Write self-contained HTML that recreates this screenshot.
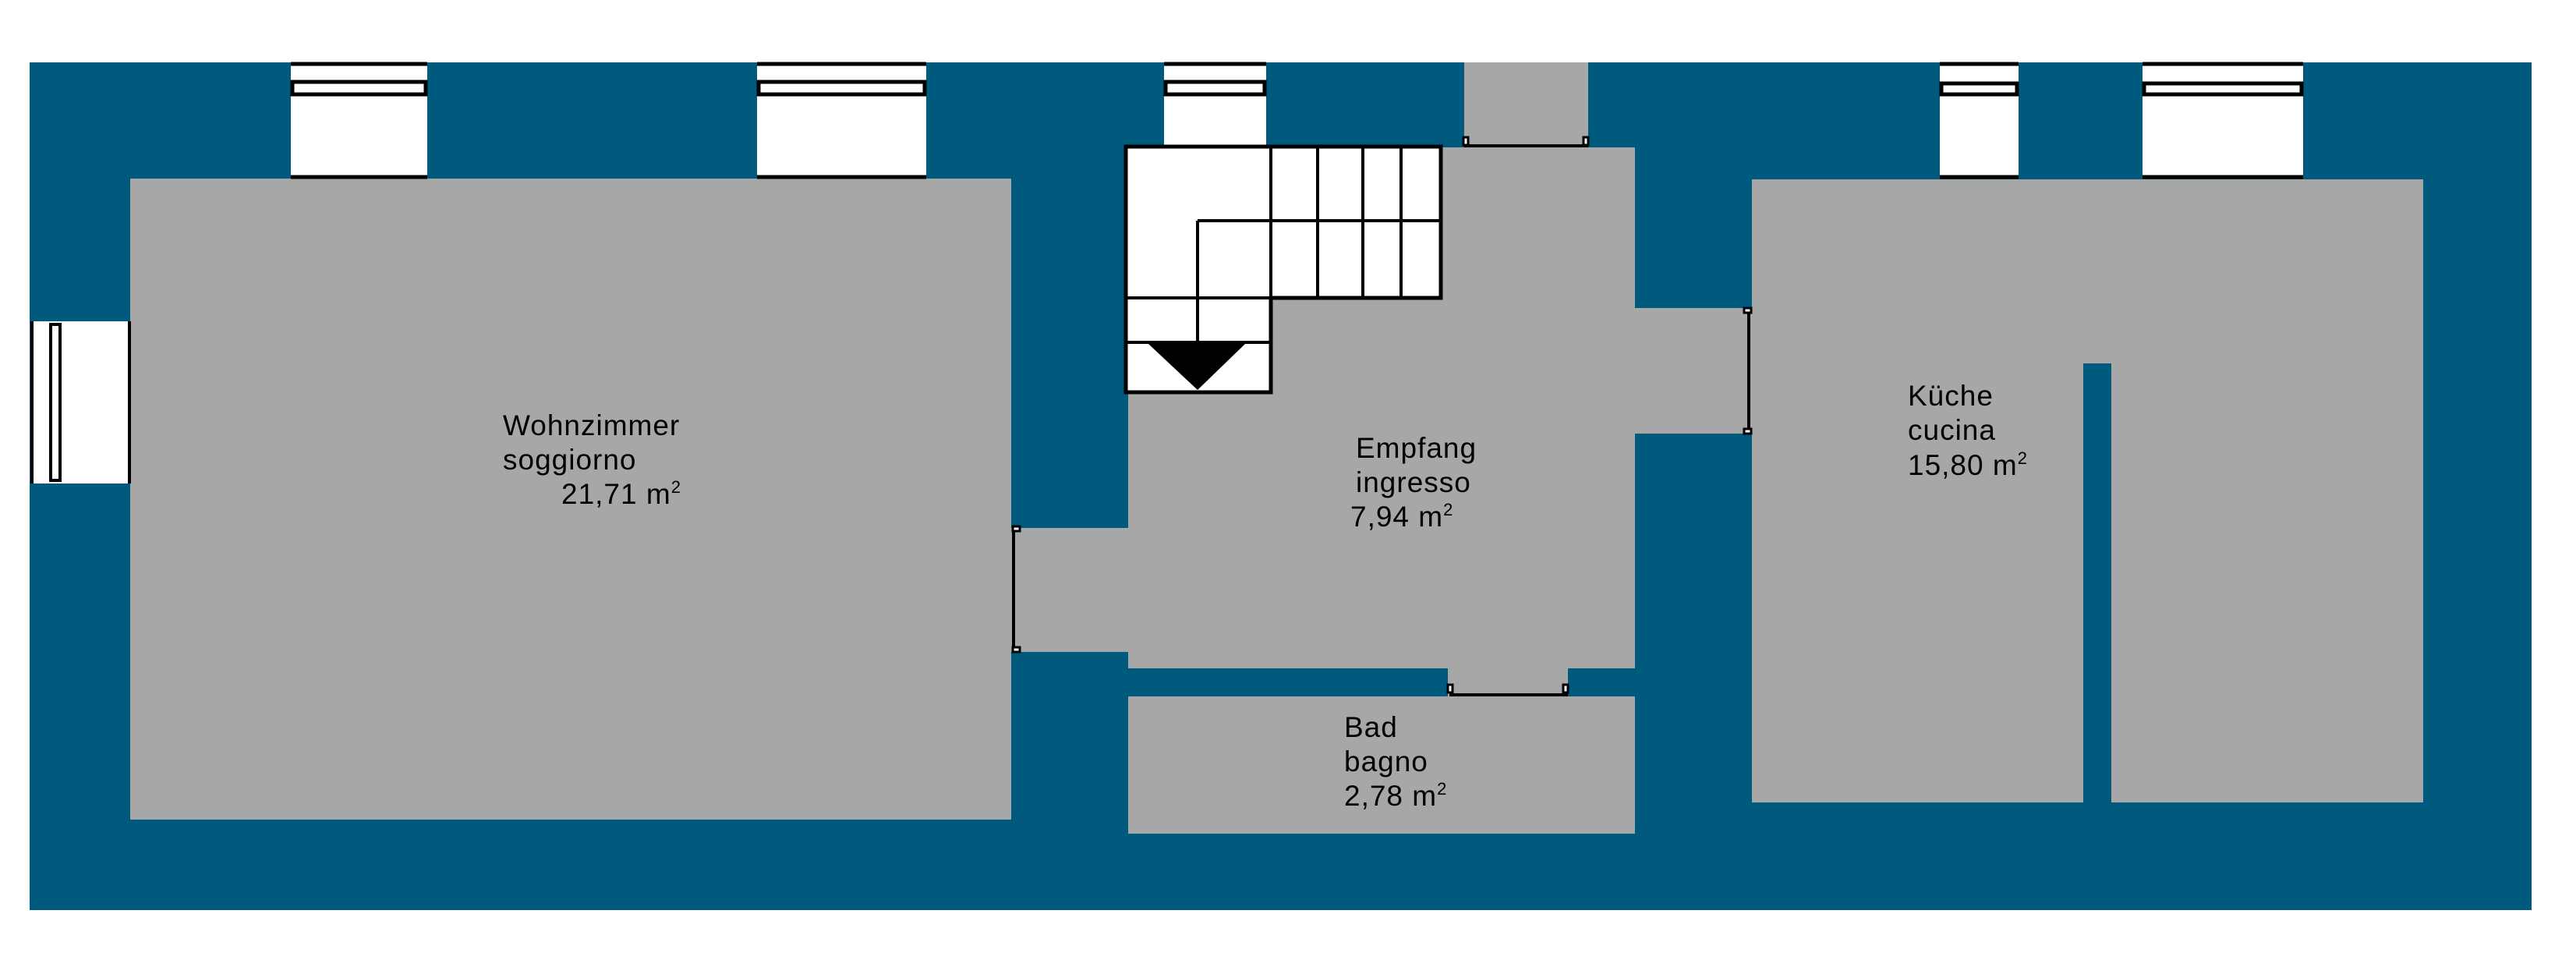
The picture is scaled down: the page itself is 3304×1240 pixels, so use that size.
<!DOCTYPE html>
<html><head><meta charset="utf-8"><style>
html,body{margin:0;padding:0;background:#fff;}
svg{display:block;}
text{font-family:"Liberation Sans",Arial,sans-serif;font-size:37px;fill:#000;letter-spacing:1px;}
</style></head><body>
<svg width="3304" height="1240" viewBox="0 0 3304 1240" xmlns="http://www.w3.org/2000/svg">
<rect x="0" y="0" width="3304" height="1240" fill="#fff"/>
<rect x="38" y="80" width="3209" height="1087" fill="#005a7e"/>
<g fill="#a7a7a7">
<rect x="167" y="229" width="1130" height="822"/>
<rect x="1297" y="677" width="152" height="159"/>
<rect x="1447" y="189" width="650" height="668"/>
<rect x="1878" y="80" width="159" height="112"/>
<rect x="2095" y="395" width="152" height="161"/>
<rect x="2247" y="230" width="861" height="799"/>
<rect x="1447" y="893" width="650" height="176"/>
<rect x="1857" y="855" width="154" height="42"/>
</g>
<rect x="2672" y="466" width="36" height="565" fill="#005a7e"/>
<!-- top windows -->
<g fill="#fff">
<rect x="373" y="80" width="175" height="147"/>
<rect x="971" y="80" width="217" height="147"/>
<rect x="1493" y="80" width="131" height="110"/>
<rect x="2488" y="80" width="101" height="147"/>
<rect x="2748" y="80" width="206" height="147"/>
</g>
<g stroke="#000" stroke-width="5" fill="none">
<line x1="373" y1="82" x2="548" y2="82"/><rect x="375" y="105" width="171" height="16"/><line x1="373" y1="227" x2="548" y2="227"/>
<line x1="971" y1="82" x2="1188" y2="82"/><rect x="973" y="105" width="213" height="16"/><line x1="971" y1="227" x2="1188" y2="227"/>
<line x1="1493" y1="82" x2="1624" y2="82"/><rect x="1495" y="105" width="127" height="16"/>
<line x1="2488" y1="82" x2="2589" y2="82"/><rect x="2490" y="107" width="97" height="14"/><line x1="2488" y1="227" x2="2589" y2="227"/>
<line x1="2748" y1="82" x2="2954" y2="82"/><rect x="2750" y="107" width="202" height="14"/><line x1="2748" y1="227" x2="2954" y2="227"/>
</g>
<!-- left window -->
<rect x="40" y="412" width="127" height="208" fill="#fff"/>
<g stroke="#000" stroke-width="4" fill="none">
<line x1="41" y1="412" x2="41" y2="620"/><rect x="65" y="416" width="12" height="200"/><line x1="166" y1="412" x2="166" y2="620"/>
</g>
<!-- stairs -->
<path d="M1444 188 H1848 V382 H1630 V503 H1444 Z" fill="#fff" stroke="#000" stroke-width="5"/>
<g stroke="#000" stroke-width="4" fill="none">
<line x1="1536" y1="283" x2="1848" y2="283"/>
<line x1="1536" y1="283" x2="1536" y2="439"/>
<line x1="1444" y1="382" x2="1630" y2="382"/>
<line x1="1444" y1="439" x2="1630" y2="439"/>
<line x1="1630" y1="188" x2="1630" y2="382"/>
<line x1="1690" y1="188" x2="1690" y2="382"/>
<line x1="1748" y1="188" x2="1748" y2="382"/>
<line x1="1797" y1="188" x2="1797" y2="382"/>
</g>
<polygon points="1473,441 1597,441 1536,500" fill="#000"/>
<!-- doors -->
<g stroke="#000" stroke-width="4" fill="none">
<line x1="1878" y1="187" x2="2037" y2="187"/>
<line x1="2243" y1="396" x2="2243" y2="556"/>
<line x1="1300" y1="679" x2="1300" y2="836"/>
<line x1="1859" y1="891" x2="2011" y2="891"/>
</g>
<g fill="#fff" stroke="#000" stroke-width="3">
<rect x="1877" y="176" width="6" height="10"/><rect x="2031" y="176" width="6" height="10"/>
<rect x="2237" y="395" width="9" height="6"/><rect x="2237" y="550" width="9" height="6"/>
<rect x="1299" y="675" width="9" height="6"/><rect x="1299" y="830" width="9" height="6"/>
<rect x="1857" y="878" width="6" height="10"/><rect x="2005" y="878" width="6" height="10"/>
</g>
<!-- labels -->
<text x="645" y="558">Wohnzimmer</text>
<text x="645" y="602">soggiorno</text>
<text x="720" y="646">21,71 m<tspan dy="-14" font-size="22">2</tspan></text>
<text x="1739" y="587">Empfang</text>
<text x="1739" y="631">ingresso</text>
<text x="1732" y="675">7,94 m<tspan dy="-14" font-size="22">2</tspan></text>
<text x="1724" y="945">Bad</text>
<text x="1724" y="989">bagno</text>
<text x="1724" y="1033">2,78 m<tspan dy="-14" font-size="22">2</tspan></text>
<text x="2447" y="520">Küche</text>
<text x="2447" y="564">cucina</text>
<text x="2447" y="609">15,80 m<tspan dy="-14" font-size="22">2</tspan></text>
</svg>
</body></html>
